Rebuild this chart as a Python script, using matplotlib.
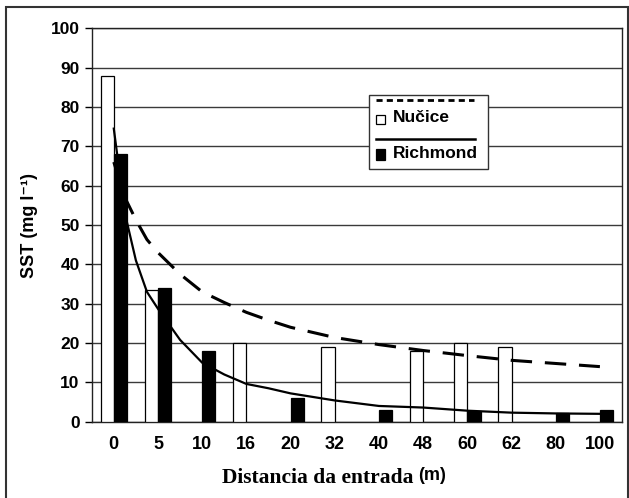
import numpy as np
import matplotlib
matplotlib.use("Agg")
import matplotlib.pyplot as plt
from matplotlib.patches import Rectangle
from matplotlib.lines import Line2D
from matplotlib import font_manager
from matplotlib.font_manager import FontProperties

# ---------------- data ----------------
categories = ['0', '5', '10', '16', '20', '32', '40', '48', '60', '62', '80', '100']
nucice = [88, 33.5, np.nan, 20, np.nan, 19, np.nan, 18, 20, 19, np.nan, np.nan]
richmond = [68, 34, 18, np.nan, 6, np.nan, 3, np.nan, 2.8, np.nan, 2.1, 3]

# trend curves (category index positions)
trend_pos = [0, 0.25, 0.5, 0.75, 1, 1.5, 2, 2.5, 3, 3.5, 4, 5, 6, 7, 8, 9, 10, 11]
nucice_trend = [66, 57, 51.3, 46.3, 43, 37.5, 33, 30.3, 27.8, 25.8, 24, 21.4, 19.6,
                18.1, 16.8, 15.6, 14.8, 14.0]
richmond_trend = [74.5, 53, 41, 33, 28.7, 20.8, 15, 12.0, 9.6, 8.5, 7.2, 5.4, 4.0,
                  3.6, 2.8, 2.3, 2.1, 2.0]

legend_labels = ['Nučice', 'Richmond']
y_label = 'SST (mg l⁻¹)'
x_label_main = 'Distancia da entrada'
x_label_unit = '(m)'

# ---------------- fonts ----------------
SANS = ['Liberation Sans', 'DejaVu Sans']
SERIF = ['Liberation Serif', 'DejaVu Serif']
plt.rcParams['font.family'] = SANS

# use Liberation Sans Narrow Bold for x tick labels if installed
narrow_path = None
for f in font_manager.fontManager.ttflist:
    if f.name == 'Liberation Sans Narrow' and f.style == 'normal':
        w = f.weight if isinstance(f.weight, int) else (700 if 'bold' in str(f.weight) else 400)
        if w >= 600:
            narrow_path = f.fname

W, H = 629, 498
fig = plt.figure(figsize=(W / 100, H / 100), dpi=100)

def fx(px):
    return px / W

def fy(py):
    return 1 - py / H

ax_l, ax_r, ax_t, ax_b = 91.7, 622, 28.3, 421.7
ax = fig.add_axes([fx(ax_l), fy(ax_b), fx(ax_r - ax_l), (ax_b - ax_t) / H])

x = np.arange(len(categories))
bw = 0.3
ax.bar(x - bw / 2, nucice, width=bw, color='white', edgecolor='black', linewidth=0.9, zorder=3)
ax.bar(x + bw / 2, richmond, width=bw, color='black', edgecolor='black', linewidth=0.9, zorder=3)

ax.plot(trend_pos, nucice_trend, color='black', lw=2.2, linestyle=(0, (7.0, 4.2)),
        zorder=4, dash_capstyle='butt')
ax.plot(trend_pos, richmond_trend, color='black', lw=1.6, zorder=4)

ax.set_xlim(-0.5, len(categories) - 0.5)
ax.set_ylim(0, 100)
ax.set_yticks(np.arange(0, 101, 10))
ax.set_xticks(x)
ax.set_xticklabels(categories)
ax.yaxis.grid(True, color='#3a3a3a', lw=1.0, zorder=1)
ax.set_axisbelow(True)

for lab in ax.get_yticklabels():
    lab.set_fontfamily(SANS)
    lab.set_fontweight('bold')
    lab.set_fontsize(12.5)
for lab in ax.get_xticklabels():
    if narrow_path:
        lab.set_fontproperties(FontProperties(fname=narrow_path, size=14.5))
    else:
        lab.set_fontfamily(SANS)
        lab.set_fontweight('bold')
        lab.set_fontsize(13)

ax.tick_params(axis='y', direction='out', length=4.7, width=1, pad=4, colors='black')
ax.tick_params(axis='x', length=0, pad=10.5)
for s in ax.spines.values():
    s.set_color('#222222')
    s.set_linewidth(1.0)

# axis labels
fig.text(fx(30), fy(225), y_label, rotation=90, ha='center', va='center',
         fontsize=13, fontweight='bold', family=SANS)
fig.text(fx(221.7), fy(483.3), x_label_main, ha='left', va='baseline',
         fontsize=15.5, fontweight='bold', family=SERIF)
fig.text(fx(418), fy(480), x_label_unit, ha='left', va='baseline',
         fontsize=13, fontweight='bold', family=SANS)

# legend (drawn manually)
T = fig.transFigure
fig.add_artist(Rectangle((fx(369.3), fy(169)), fx(487.7 - 369.3), (169 - 95) / H,
                         transform=T, facecolor='white', edgecolor='#333333', lw=1.0, zorder=10))
fig.add_artist(Line2D([fx(376), fx(474)], [fy(100), fy(100)], transform=T, color='black',
                      lw=2.0, linestyle=(0, (2.2, 1.5)), zorder=11))
fig.add_artist(Rectangle((fx(376), fy(124)), fx(9.3), 9 / H, transform=T,
                         facecolor='white', edgecolor='black', lw=0.9, zorder=11))
fig.text(fx(393.3), fy(117.5), legend_labels[0], ha='left', va='center', fontsize=12.5,
         fontweight='bold', family=SANS, zorder=12)
fig.add_artist(Line2D([fx(376), fx(475)], [fy(139.3), fy(139.3)], transform=T, color='black',
                      lw=1.8, zorder=11))
fig.add_artist(Rectangle((fx(376), fy(160)), fx(9.3), 10.7 / H, transform=T,
                         facecolor='black', edgecolor='black', lw=0.9, zorder=11))
fig.text(fx(393.3), fy(153.3), legend_labels[1], ha='left', va='center', fontsize=12.5,
         fontweight='bold', family=SANS, zorder=12)

# outer frame
fig.add_artist(Rectangle((fx(6.5), -0.05), fx(627.5 - 6.5), fy(6.5) + 0.05, transform=T,
                         facecolor='none', edgecolor='#333333', lw=1.5, zorder=0))

fig.savefig('out.png', dpi=100)
